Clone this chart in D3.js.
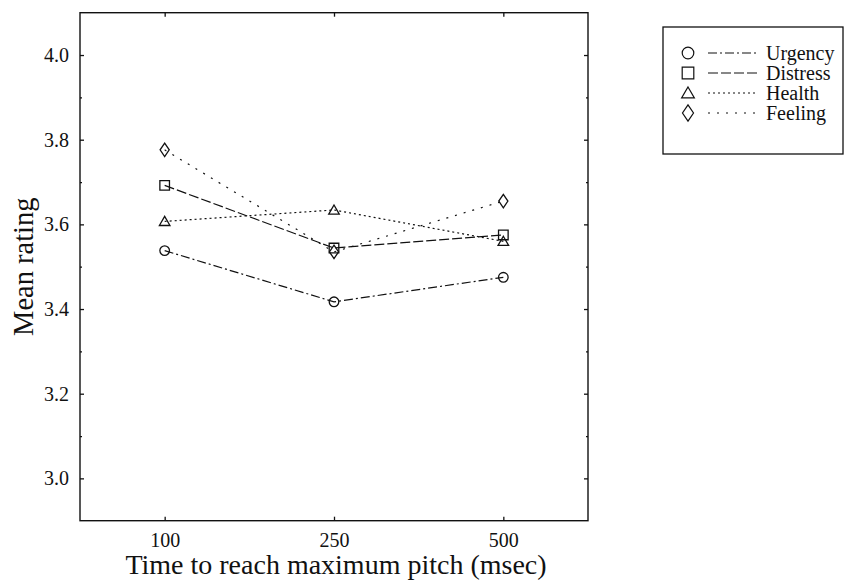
<!DOCTYPE html>
<html>
<head>
<meta charset="utf-8">
<script src="https://cdn.jsdelivr.net/npm/d3@7"></script>
<style>
  html, body { margin: 0; padding: 0; background: #fff; }
  svg { display: block; }
  svg text { font-family: "Liberation Serif", "Times New Roman", Times, serif !important; }
</style>
</head>
<body>
<svg id="chart" width="846" height="581"></svg>
<script>
// ---- data ----
const categories = ["100", "250", "500"];
const seriesNames = ["Urgency", "Distress", "Health", "Feeling"];
const urgency  = [3.538, 3.417, 3.475];
const distress = [3.692, 3.544, 3.575];
const health   = [3.607, 3.634, 3.560];
const feeling  = [3.776, 3.535, 3.655];
const majorTicks = [3.0, 3.2, 3.4, 3.6, 3.8, 4.0];
const minorTicks = [3.1, 3.3, 3.5, 3.7, 3.9];
const xTitle = "Time to reach maximum pitch (msec)";
const yTitle = "Mean rating";

const seriesValues = [urgency, distress, health, feeling];
const markers = ["circle", "square", "triangle", "diamond"];
const dashes = ["9,3,2,3", "10,3", "2,3", "2,7"];

const svg = d3.select("#chart");
const L = 80, R = 588, T = 12.7, B = 520.7;

const x = d3.scalePoint().domain(categories).range([L, R]).padding(0.5);
const y = d3.scaleLinear().domain([2.9, 4.1]).range([B, T]);

function markerPath(type, cx, cy, s) {
  const p = d3.path();
  if (type === "circle") {
    p.moveTo(cx + s, cy); p.arc(cx, cy, s, 0, 2 * Math.PI);
  } else if (type === "square") {
    p.rect(cx - s, cy - s, 2 * s, 2 * s);
  } else if (type === "triangle") {
    const h = s * 1.9;
    p.moveTo(cx, cy - h * 0.55); p.lineTo(cx + s * 1.1, cy + h * 0.45); p.lineTo(cx - s * 1.1, cy + h * 0.45); p.closePath();
  } else {
    p.moveTo(cx, cy - s * 1.4); p.lineTo(cx + s * 0.95, cy); p.lineTo(cx, cy + s * 1.4); p.lineTo(cx - s * 0.95, cy); p.closePath();
  }
  return p.toString();
}

// frame
svg.append("rect").attr("x", L).attr("y", T).attr("width", R - L).attr("height", B - T)
  .attr("fill", "none").attr("stroke", "#111").attr("stroke-width", 1.4);

// axes
const fmt = d3.format(".1f");
const gl = svg.append("g").attr("transform", `translate(${L},0)`)
  .call(d3.axisLeft(y).tickValues(majorTicks).tickSize(-4).tickPadding(11).tickFormat(fmt));
const gr = svg.append("g").attr("transform", `translate(${R},0)`)
  .call(d3.axisRight(y).tickValues(majorTicks).tickSize(-4).tickFormat(""));
const glm = svg.append("g").attr("transform", `translate(${L},0)`)
  .call(d3.axisLeft(y).tickValues(minorTicks).tickSize(-2).tickFormat(""));
const grm = svg.append("g").attr("transform", `translate(${R},0)`)
  .call(d3.axisRight(y).tickValues(minorTicks).tickSize(-2).tickFormat(""));
const gb = svg.append("g").attr("transform", `translate(0,${B})`)
  .call(d3.axisBottom(x).tickSize(-4).tickPadding(12));
const gt = svg.append("g").attr("transform", `translate(0,${T})`)
  .call(d3.axisTop(x).tickSize(-4).tickFormat(""));
[gl, gr, glm, grm, gb, gt].forEach(g => {
  g.attr("font-family", "Liberation Serif");
  g.select(".domain").remove();
  g.selectAll(".tick line").attr("stroke", "#111").attr("stroke-width", 1.3);
  g.selectAll(".tick text").attr("font-size", 20).attr("fill", "#111");
});

// titles
svg.append("text").attr("x", 336).attr("y", 574).attr("text-anchor", "middle")
  .attr("font-size", 28).attr("fill", "#111").text(xTitle);
svg.append("text").attr("transform", `translate(33,${(T + B) / 2}) rotate(-90)`)
  .attr("text-anchor", "middle").attr("font-size", 28.5).attr("fill", "#111").text(yTitle);

// series
const line = d3.line().x((d, i) => x(categories[i])).y(d => y(d));
seriesValues.forEach((vals, si) => {
  svg.append("path").attr("d", line(vals)).attr("fill", "none")
    .attr("stroke", "#111").attr("stroke-width", 1.2).attr("stroke-dasharray", dashes[si]);
  svg.append("g").selectAll("path").data(vals).join("path")
    .attr("d", (d, i) => markerPath(markers[si], x(categories[i]), y(d), 4.8))
    .attr("fill", "none").attr("stroke", "#111").attr("stroke-width", 1.3);
});

// legend
const lg = svg.append("g");
lg.append("rect").attr("x", 663).attr("y", 27).attr("width", 180).attr("height", 127)
  .attr("fill", "none").attr("stroke", "#111").attr("stroke-width", 1.3);
seriesNames.forEach((name, i) => {
  const cy = 53 + i * 20;
  lg.append("path").attr("d", markerPath(markers[i], 688, cy, 5.8))
    .attr("fill", "none").attr("stroke", "#111").attr("stroke-width", 1.2);
  lg.append("line").attr("x1", 708).attr("x2", 757).attr("y1", cy).attr("y2", cy)
    .attr("stroke", "#111").attr("stroke-width", 1.2).attr("stroke-dasharray", dashes[i]);
  lg.append("text").attr("x", 766).attr("y", cy).attr("dy", "0.33em")
    .attr("font-size", 20).attr("fill", "#111").text(name);
});
</script>
</body>
</html>
